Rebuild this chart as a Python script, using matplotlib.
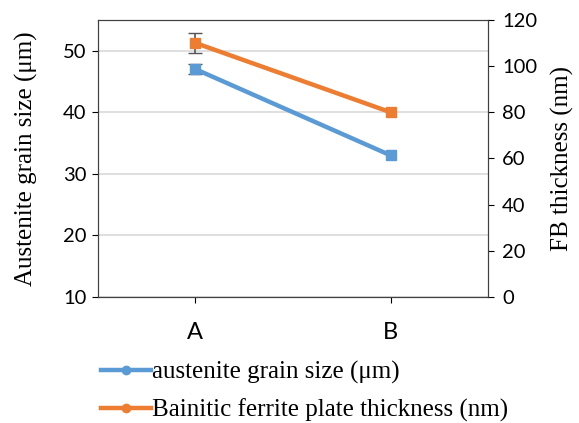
import numpy as np
import matplotlib.pyplot as plt
from matplotlib.lines import Line2D

categories = ['A', 'B']
grain_size = [47, 33]          # um, left axis
grain_err = [0.8, np.nan]      # no visible error bar at B
plate_thickness = [110, 80]    # nm, right axis
plate_err = [4.5, np.nan]

BLUE = '#5B9BD5'
ORANGE = '#ED7D31'
SERIF = ['Liberation Serif', 'DejaVu Serif']
SANS = ['Lato', 'DejaVu Sans']

fig = plt.figure(figsize=(5.79, 4.23), dpi=100)
ax = fig.add_axes([0.169, 0.298, 0.674, 0.655])
ax2 = ax.twinx()

x = np.arange(len(categories))
ax.errorbar(x, grain_size, yerr=grain_err, color=BLUE, lw=3.2, marker='s', ms=7.5,
            capsize=5, ecolor='#555555', elinewidth=1.2, zorder=3)
ax2.errorbar(x, plate_thickness, yerr=plate_err, color=ORANGE, lw=3.2, marker='s', ms=7.5,
             capsize=5, ecolor='#555555', elinewidth=1.2, zorder=3)

ax.set_xlim(-0.5, 1.5)
ax.set_ylim(10, 55)
ax.set_yticks([10, 20, 30, 40, 50])
ax2.set_ylim(0, 120)
ax2.set_yticks(np.arange(0, 121, 20))
ax.set_xticks(x)
ax.set_xticklabels(categories, fontsize=17, family=SANS)
ax.tick_params(axis='x', pad=14, length=4)
for lab in ax.get_yticklabels() + ax2.get_yticklabels():
    lab.set_family(SANS)
    lab.set_fontsize(14.5)
ax.tick_params(axis='y', length=4, pad=4)
ax2.tick_params(axis='y', length=4, pad=6)

ax.grid(axis='y', color='#d9d9d9', lw=1.2)
ax.set_axisbelow(True)
for a in (ax, ax2):
    for s in a.spines.values():
        s.set_color('#404040')

ax.set_ylabel('Austenite grain size (\u03bcm)', family=SERIF, fontsize=18, labelpad=18)
ax2.set_ylabel('FB thickness (nm)', family=SERIF, fontsize=18, labelpad=10)

handles = [Line2D([], [], color=BLUE, lw=3.2, marker='o', ms=6),
           Line2D([], [], color=ORANGE, lw=3.2, marker='o', ms=6)]
fig.legend(handles, ['austenite grain size (\u03bcm)', 'Bainitic ferrite plate thickness (nm)'],
           loc='upper left', bbox_to_anchor=(0.152, 0.177), frameon=False,
           prop={'family': SERIF, 'size': 18}, handlelength=2.0, handletextpad=0.05,
           labelspacing=0.6, borderpad=0)

fig.savefig('out.png', dpi=100)
